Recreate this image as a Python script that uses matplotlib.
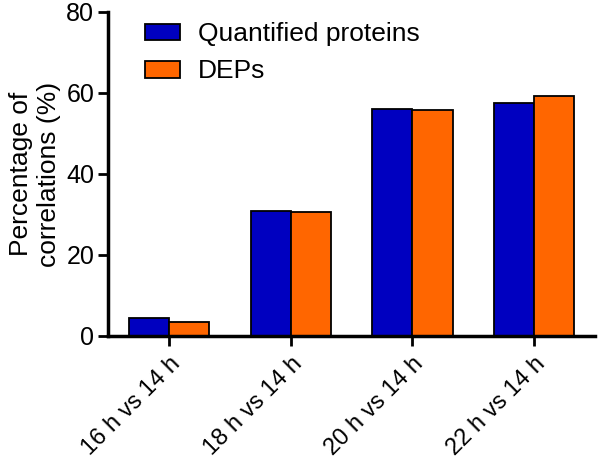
import numpy as np
import matplotlib.pyplot as plt

plt.rcParams['font.family'] = ['Liberation Sans', 'DejaVu Sans']

# data
groups = ['16 h vs 14 h', '18 h vs 14 h', '20 h vs 14 h', '22 h vs 14 h']
quantified = [4.4, 30.9, 56.0, 57.6]
deps = [3.4, 30.6, 55.7, 59.3]

fig = plt.figure(figsize=(5.98, 4.59), dpi=100)
ax = fig.add_axes([0.181, 0.268, 0.814, 0.706])

x = np.arange(len(groups))
w = 0.33
ax.bar(x - w / 2, quantified, w, color='#0000c0', edgecolor='black', linewidth=1.3,
       label='Quantified proteins')
ax.bar(x + w / 2, deps, w, color='#ff6600', edgecolor='black', linewidth=1.3,
       label='DEPs')

ax.set_xlim(-0.5, 3.5)
ax.set_ylim(0, 80)
ax.set_yticks([0, 20, 40, 60, 80])
ax.set_xticks(x)
ax.set_xticklabels(groups, rotation=45, ha='right', rotation_mode='anchor')
ax.tick_params(axis='both', width=2, length=7, direction='out')
ax.tick_params(axis='y', labelsize=18, pad=3)
ax.tick_params(axis='x', labelsize=17, pad=5)
ax.set_ylabel('Percentage of\ncorrelations (%)', fontsize=19, labelpad=4)

for s in ['top', 'right']:
    ax.spines[s].set_visible(False)
for s in ['left', 'bottom']:
    ax.spines[s].set_linewidth(2.5)

ax.legend(loc='upper left', bbox_to_anchor=(0.076, 0.968), frameon=False, fontsize=19,
          borderpad=0, borderaxespad=0, handlelength=1.3, handleheight=0.6,
          handletextpad=0.7, labelspacing=0.5)

fig.savefig('out.png', dpi=100)
